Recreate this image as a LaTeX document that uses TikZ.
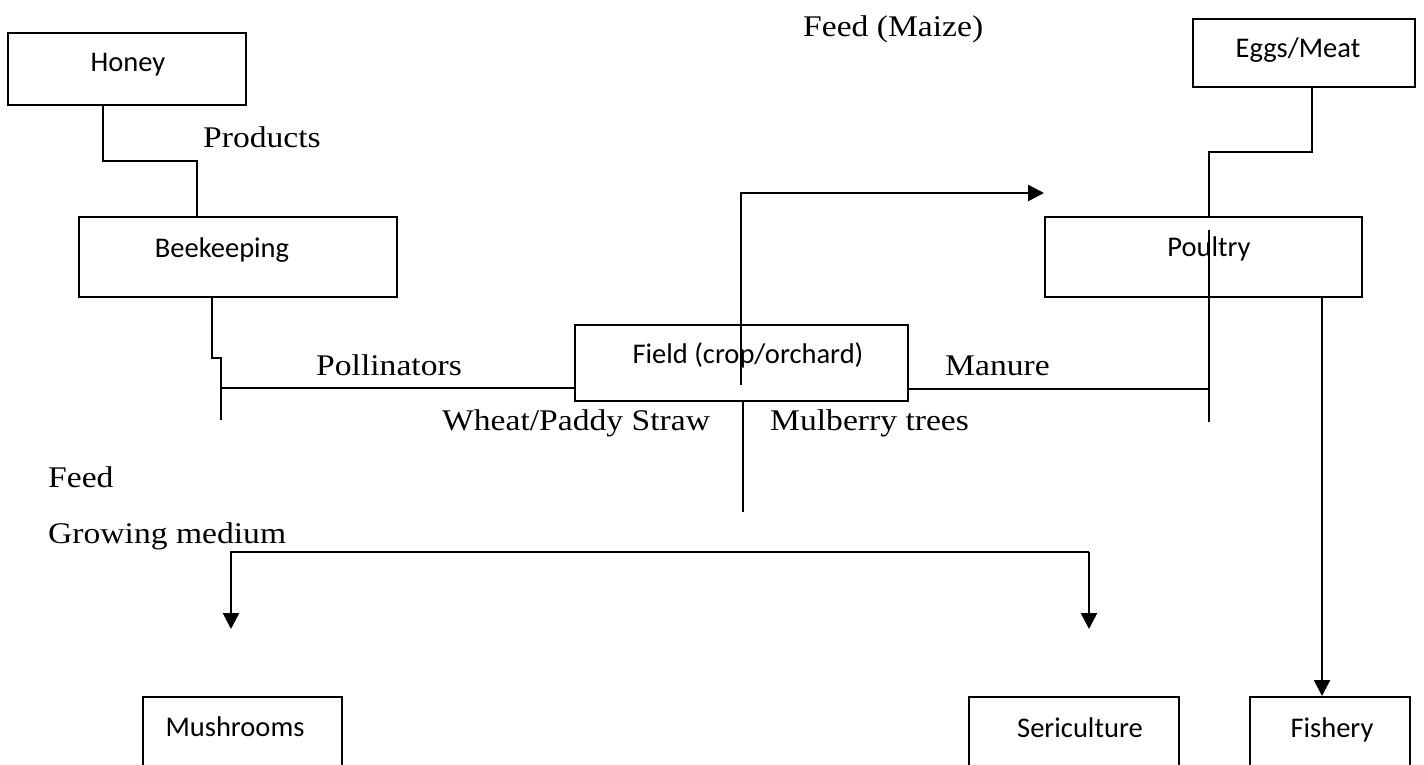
\documentclass[tikz,border=0pt]{standalone}
\usepackage{fontspec}
\setmainfont{Liberation Serif}[FakeStretch=1.12]
\newfontfamily\boxfont{Carlito}
\usetikzlibrary{arrows.meta}
\tikzset{
  box/.style={draw, line width=2pt, inner sep=0pt},
  boxtext/.style={font=\boxfont\fontsize{28.5}{30}\selectfont, inner sep=0pt, anchor=base},
  lbl/.style={font=\fontsize{30}{32}\selectfont, inner sep=0pt, anchor=base west},
  conn/.style={line width=2pt},
  arr/.style={line width=2.5pt, -{Triangle[length=16pt,width=16pt]}}
}
\begin{document}
\begin{tikzpicture}[x=1pt,y=-1pt]
\useasboundingbox (0,0) rectangle (1424,765);
\clip (0,0) rectangle (1424,765);
% boxes
\node[box, minimum width=238pt, minimum height=72pt] (honey) at (127,69) {};
\node[box, minimum width=318pt, minimum height=80pt] (bee) at (238,257) {};
\node[box, minimum width=333pt, minimum height=76pt] (field) at (741.5,363) {};
\node[box, minimum width=317pt, minimum height=80pt] (poultry) at (1203.5,257) {};
\node[box, minimum width=222pt, minimum height=68pt] (eggs) at (1304,53) {};
\node[box, minimum width=199pt, minimum height=90pt] (mush) at (242.5,742) {};
\node[box, minimum width=210pt, minimum height=90pt] (seri) at (1074,742) {};
\node[box, minimum width=160pt, minimum height=90pt] (fish) at (1330,742) {};
% box texts
\node[boxtext] (honeyT) at (128,72) {Honey};
\node[boxtext] (beeT) at (222,257) {Beekeeping};
\node[boxtext] (fieldT) at (748,363) {Field (crop/orchard)};
\node[boxtext] (poultryT) at (1209,256) {Poultry};
\node[boxtext] (eggsT) at (1298,58) {Eggs/Meat};
\node[boxtext] (mushT) at (235,736) {Mushrooms};
\node[boxtext] (seriT) at (1080,737) {Sericulture};
\node[boxtext] (fishT) at (1332,737) {Fishery};
% labels
\node[lbl] (products) at (203,148) {Products};
\node[lbl] (pollin) at (316,375) {Pollinators};
\node[lbl] (manure) at (945,375) {Manure};
\node[lbl] (straw) at (442,430) {Wheat/Paddy Straw};
\node[lbl] (mulb) at (770,430) {Mulberry trees};
\node[lbl] (feed) at (48,487) {Feed};
\node[lbl] (grow) at (48,543) {Growing medium};
\node[lbl] (maize) at (803,37) {Feed (Maize)};
% free ends
\coordinate (beeEnd) at (221,420);
\coordinate (fieldIn) at (741,385);
\coordinate (fieldBot) at (743,512);
\coordinate (poulIn) at (1209,230);
\coordinate (poulEnd) at (1209,422);
\coordinate (gmL) at (231,552);
\coordinate (gmR) at (1089,552);
\coordinate (mushTip) at (231,629);
\coordinate (seriTip) at (1089,629);
% connectors
\draw[conn] (honey.south -| 103,0) -- (103,161) -- (197,161) -- (bee.north -| 197,0);
\draw[conn] (bee.south -| 212,0) -- (212,358) -- (221,358) -- (beeEnd);
\draw[conn] (221,388) -- (field.west |- 0,388);
\draw[arr] (fieldIn) -- (741,193) -- (poultry.west |- 0,193);
\draw[conn] (field.south -| fieldBot) -- (fieldBot);
\draw[conn] (field.east |- 0,389) -- (1209,389);
\draw[conn] (poulIn) -- (poulEnd);
\draw[conn] (eggs.south -| 1312,0) -- (1312,152) -- (1209,152) -- (poultry.north -| 1209,0);
\draw[arr] (poultry.south -| 1322,0) -- (fish.north -| 1322,0);
\draw[arr] (gmR) -- (gmL) -- (mushTip);
\draw[arr] (gmR) -- (seriTip);
\end{tikzpicture}
\end{document}
